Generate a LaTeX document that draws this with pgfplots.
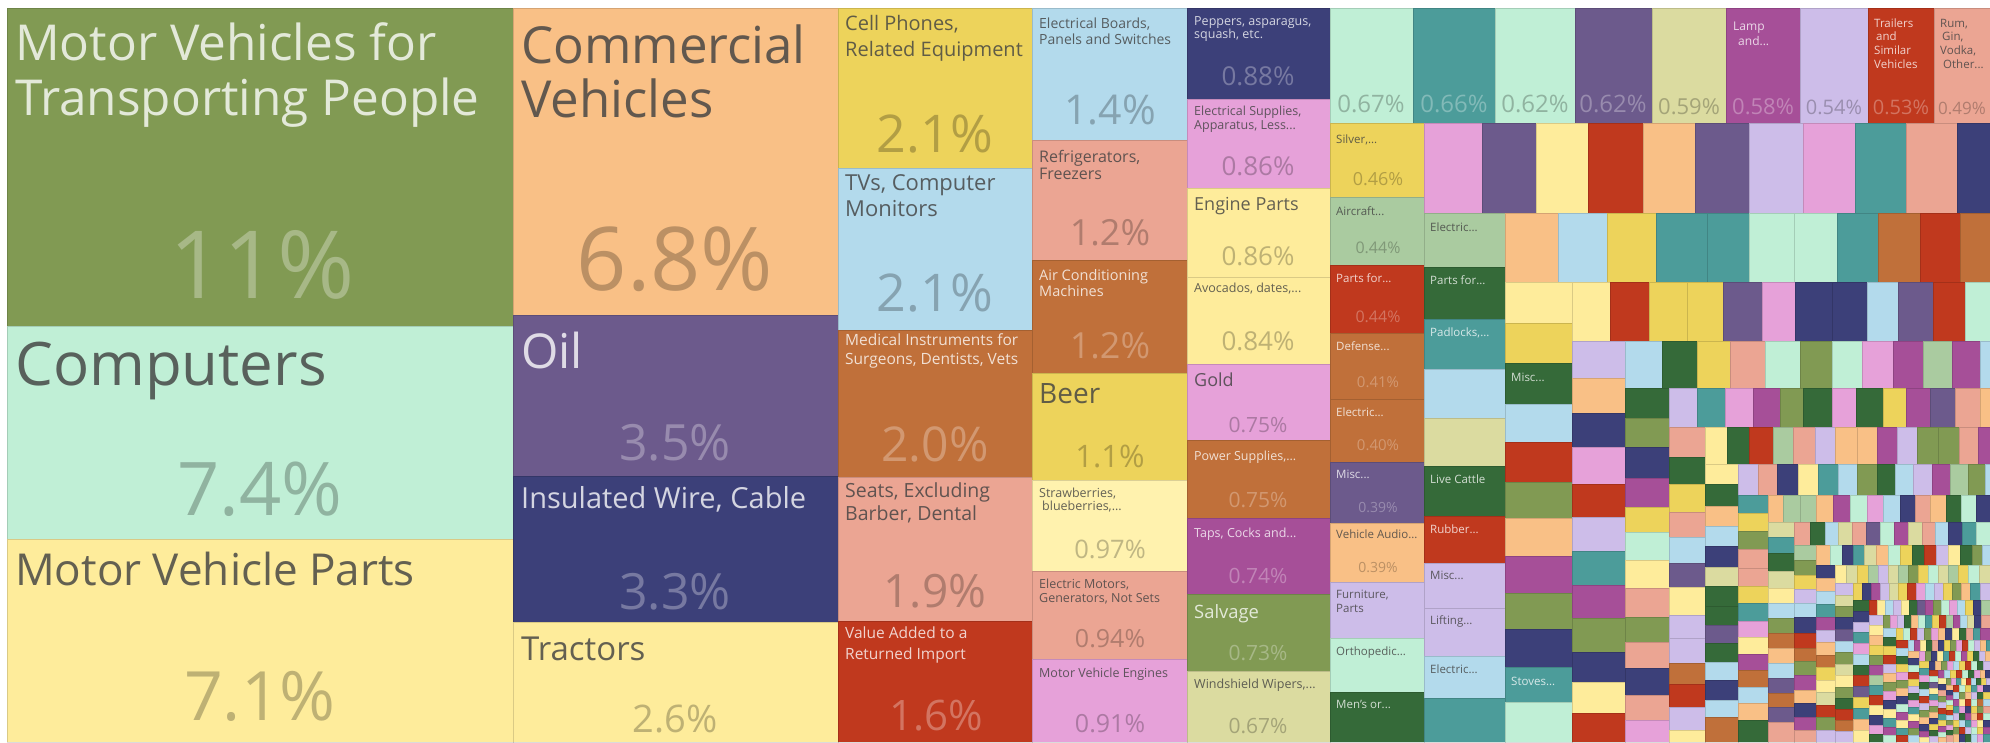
\documentclass[border=0pt]{standalone}
\usepackage{fontspec}
\setmainfont{Open Sans}
\usepackage{pgfplots}
\usepackage{pgfplotstable}
\pgfplotsset{compat=1.18}

\definecolor{cG}{HTML}{819A53}
\definecolor{cM}{HTML}{C0EFD6}
\definecolor{cLY}{HTML}{FEEC9B}
\definecolor{cO}{HTML}{F9C086}
\definecolor{cP}{HTML}{6C5A8C}
\definecolor{cN}{HTML}{3C4079}
\definecolor{cY}{HTML}{EDD35B}
\definecolor{cLB}{HTML}{B3DAEC}
\definecolor{cB}{HTML}{C0703A}
\definecolor{cS}{HTML}{EBA593}
\definecolor{cR}{HTML}{C0391E}
\definecolor{cPK}{HTML}{E6A1D9}
\definecolor{cMG}{HTML}{A64F98}
\definecolor{cK}{HTML}{DBDBA0}
\definecolor{cT}{HTML}{4C9C9A}
\definecolor{cL}{HTML}{CDBDE9}
\definecolor{cLG}{HTML}{AACBA0}
\definecolor{cDG}{HTML}{356A39}
\definecolor{cSY}{HTML}{FFF2AE}
% text colours: dark tiles
\colorlet{tG}{cG!22!white}\colorlet{pG}{cG!70!white}
\colorlet{tP}{cP!22!white}\colorlet{pP}{cP!70!white}
\colorlet{tN}{cN!22!white}\colorlet{pN}{cN!70!white}
\colorlet{tB}{cB!22!white}\colorlet{pB}{cB!72!white}
\colorlet{tR}{cR!22!white}\colorlet{pR}{cR!70!white}
\colorlet{tMG}{cMG!22!white}\colorlet{pMG}{cMG!70!white}
\colorlet{tT}{cT!22!white}\colorlet{pT}{cT!70!white}
\colorlet{tDG}{cDG!22!white}\colorlet{pDG}{cDG!70!white}
% text colours: light tiles
\colorlet{tM}{cM!30!gray!60!black}\colorlet{pM}{cM!75!black}
\colorlet{tLY}{cLY!30!gray!60!black}\colorlet{pLY}{cLY!75!black}
\colorlet{tSY}{cSY!30!gray!60!black}\colorlet{pSY}{cSY!75!black}
\colorlet{tO}{cO!30!gray!60!black}\colorlet{pO}{cO!75!black}
\colorlet{tY}{cY!30!gray!60!black}\colorlet{pY}{cY!75!black}
\colorlet{tLB}{cLB!30!gray!60!black}\colorlet{pLB}{cLB!75!black}
\colorlet{tS}{cS!30!gray!60!black}\colorlet{pS}{cS!75!black}
\colorlet{tPK}{cPK!30!gray!60!black}\colorlet{pPK}{cPK!75!black}
\colorlet{tK}{cK!30!gray!60!black}\colorlet{pK}{cK!75!black}
\colorlet{tL}{cL!30!gray!60!black}\colorlet{pL}{cL!75!black}
\colorlet{tLG}{cLG!30!gray!60!black}\colorlet{pLG}{cLG!75!black}

% large tiles: x0 y0 x1 y1 colour (pixel units, y downwards)
\pgfplotstableread{
x0 y0 x1 y1 c
7 8 513 326 G
7 326 513 539 M
7 539 513 742 LY
513 8 838 315 O
513 315 838 476 P
513 476 838 622 N
513 622 838 742 LY
838 8 1032 168 Y
838 168 1032 330 LB
838 330 1032 477 B
838 477 1032 621 S
838 621 1032 742 R
1032 8 1187 140 LB
1032 140 1187 260 S
1032 260 1187 373 B
1032 373 1187 480 Y
1032 480 1187 571 SY
1032 571 1187 659 S
1032 659 1187 742 PK
1187 8 1330 99 N
1187 99 1330 188 PK
1187 188 1330 277 LY
1187 277 1330 364 LY
1187 364 1330 440 PK
1187 440 1330 518 B
1187 518 1330 594 MG
1187 594 1330 671 G
1187 671 1330 742 K
1330 8 1413 123 M
1413 8 1495 123 T
1495 8 1575 123 M
1575 8 1652 123 P
1652 8 1726 123 K
1726 8 1800 123 MG
1800 8 1868 123 L
1868 8 1934 123 R
1934 8 1990 123 S
1330 123 1424 197 Y
1330 197 1424 265 LG
1330 265 1424 333 R
1330 333 1424 399 B
1330 399 1424 462 B
1330 462 1424 523 P
1330 523 1424 582 O
1330 582 1424 638 L
1330 638 1424 692 M
1330 692 1424 742 DG
1424 123 1482 213 PK
1482 123 1536 213 P
1536 123 1588 213 LY
1588 123 1643 213 R
1643 123 1695 213 O
1695 123 1749 213 P
1749 123 1803 213 L
1803 123 1855 213 PK
1855 123 1906 213 T
1906 123 1957 213 S
1957 123 1990 213 N
1424 213 1505 267 LG
1424 267 1505 319 DG
1424 319 1505 369 T
1424 369 1505 418 LB
1424 418 1505 466 K
1424 466 1505 516 DG
1424 516 1505 563 R
1424 563 1505 608 L
1424 608 1505 656 L
1424 656 1505 698 LB
1424 698 1505 742 T
1505 213 1558 282 O
1558 213 1607 282 LB
1607 213 1656 282 Y
1656 213 1707 282 T
1707 213 1749 282 T
1749 213 1794 282 M
1794 213 1837 282 M
1837 213 1878 282 T
1878 213 1920 282 B
1920 213 1960 282 R
1960 213 1990 282 B
1505 282 1572 323 LY
1505 323 1572 363 Y
1505 363 1572 404 DG
1505 404 1572 442 LB
1505 442 1572 482 R
1505 482 1572 518 G
1505 518 1572 556 O
1505 556 1572 593 MG
1505 593 1572 629 G
1505 629 1572 667 N
1505 667 1572 702 T
1505 702 1572 742 M
}\majortiles

\pgfplotstableread{
x0 y0 x1 y1 c
1572 282 1610 341 LY
1610 282 1649 341 R
1649 282 1687 341 Y
1687 282 1723 341 Y
1723 282 1762 341 P
1762 282 1795 341 PK
1795 282 1832 341 N
1832 282 1867 341 N
1867 282 1898 341 LB
1898 282 1933 341 P
1933 282 1965 341 R
1965 282 1990 341 M
1572 341 1625 378 L
1572 378 1625 413 O
1572 413 1625 447 N
1572 447 1625 484 PK
1572 484 1625 517 R
1572 517 1625 551 L
1572 551 1625 585 T
1572 585 1625 618 MG
1572 618 1625 652 G
1572 652 1625 682 N
1572 682 1625 713 LY
1572 713 1625 742 R
1625 341 1662 388 LB
1662 341 1697 388 DG
1697 341 1730 388 Y
1730 341 1765 388 S
1765 341 1800 388 M
1800 341 1832 388 G
1832 341 1862 388 M
1862 341 1893 388 PK
1893 341 1923 388 MG
1923 341 1952 388 LG
1952 341 1980 388 MG
1980 341 1990 388 LB
1625 388 1669 418 DG
1625 418 1669 447 G
1625 447 1669 478 N
1625 478 1669 507 MG
1625 507 1669 532 Y
1625 532 1669 560 M
1625 560 1669 588 LY
1625 588 1669 617 S
1625 617 1669 642 G
1625 642 1669 668 S
1625 668 1669 695 N
1625 695 1669 720 S
1625 720 1669 742 PK
1669 388 1697 427 L
1697 388 1725 427 T
1725 388 1753 427 PK
1753 388 1780 427 MG
1780 388 1803 427 G
1803 388 1832 427 DG
1832 388 1856 427 PK
1856 388 1883 427 DG
1883 388 1906 427 Y
1906 388 1930 427 MG
1930 388 1955 427 P
1955 388 1980 427 S
1980 388 1990 427 O
1669 427 1705 457 S
1669 457 1705 484 DG
1669 484 1705 512 Y
1669 512 1705 537 S
1669 537 1705 563 LB
1669 563 1705 587 P
1669 587 1705 615 LY
1669 615 1705 638 L
1669 638 1705 663 L
1669 663 1705 684 B
1669 684 1705 707 R
1669 707 1705 730 L
1669 730 1705 742 LY
1705 427 1727 464 LY
1727 427 1749 464 DG
1749 427 1773 464 R
1773 427 1793 464 LG
1793 427 1815 464 S
1815 427 1835 464 L
1835 427 1857 464 O
1857 427 1877 464 O
1877 427 1897 464 MG
1897 427 1917 464 L
1917 427 1938 464 G
1938 427 1959 464 G
1959 427 1978 464 S
1978 427 1990 464 MG
1705 464 1738 484 LY
1705 484 1738 506 DG
1705 506 1738 526 O
1705 526 1738 546 LB
1705 546 1738 567 N
1705 567 1738 586 K
1705 586 1738 606 DG
1705 606 1738 625 DG
1705 625 1738 643 P
1705 643 1738 662 DG
1705 662 1738 680 LB
1705 680 1738 700 N
1705 700 1738 717 LB
1705 717 1738 742 B
1738 464 1758 495 L
1758 464 1777 495 S
1777 464 1798 495 N
1798 464 1818 495 LY
1818 464 1838 495 T
1838 464 1857 495 LB
1857 464 1877 495 G
1877 464 1895 495 DG
1895 464 1913 495 LB
1913 464 1932 495 L
1932 464 1950 495 MG
1950 464 1968 495 LG
1968 464 1985 495 G
1985 464 1990 495 LB
1738 495 1768 513 T
1738 513 1768 531 Y
1738 531 1768 549 G
1738 549 1768 568 S
1738 568 1768 586 S
1738 586 1768 603 Y
1738 603 1768 621 T
1738 621 1768 637 PK
1738 637 1768 654 LY
1738 654 1768 670 MG
1738 670 1768 687 B
1738 687 1768 703 LB
1738 703 1768 720 O
1738 720 1768 742 DG
1768 495 1783 522 O
1783 495 1800 522 LG
1800 495 1816 522 LG
1816 495 1833 522 O
1833 495 1850 522 MG
1850 495 1867 522 M
1867 495 1883 522 PK
1883 495 1900 522 LB
1900 495 1915 522 N
1915 495 1930 522 S
1930 495 1946 522 O
1946 495 1961 522 DG
1961 495 1976 522 M
1976 495 1990 522 N
1768 522 1794 537 K
1768 537 1794 553 T
1768 553 1794 571 DG
1768 571 1794 588 K
1768 588 1794 603 LY
1768 603 1794 618 LB
1768 618 1794 633 G
1768 633 1794 648 B
1768 648 1794 663 O
1768 663 1794 678 LB
1768 678 1794 693 P
1768 693 1794 707 B
1768 707 1794 722 P
1768 722 1794 742 S
1794 522 1810 545 S
1810 522 1825 545 DG
1825 522 1838 545 LB
1838 522 1852 545 K
1852 522 1866 545 S
1866 522 1880 545 P
1880 522 1894 545 M
1894 522 1908 545 MG
1908 522 1922 545 K
1922 522 1935 545 S
1935 522 1948 545 LB
1948 522 1962 545 N
1962 522 1976 545 T
1976 522 1990 545 M
1794 545 1816 560 LG
1794 560 1816 575 G
1794 575 1816 589 Y
1794 589 1816 603 L
1794 603 1816 617 LB
1794 617 1816 633 N
1794 633 1816 648 R
1794 648 1816 661 B
1794 661 1816 675 G
1794 675 1816 690 MG
1794 690 1816 703 O
1794 703 1816 717 N
1794 717 1816 730 MG
1794 730 1816 742 S
1816 545 1830 565 O
1830 545 1842 565 M
1842 545 1853 565 N
1853 545 1864 565 T
1864 545 1876 565 K
1876 545 1888 565 O
1888 545 1900 565 M
1900 545 1912 565 Y
1912 545 1924 565 DG
1924 545 1936 565 R
1936 545 1948 565 L
1948 545 1960 565 LY
1960 545 1972 565 DG
1972 545 1982 565 G
1982 545 1990 565 LB
1816 565 1835 578 N
1816 578 1835 591 O
1816 591 1835 604 LB
1816 604 1835 617 T
1816 617 1835 630 MG
1816 630 1835 642 L
1816 642 1835 655 O
1816 655 1835 667 B
1816 667 1835 680 Y
1816 680 1835 692 LY
1816 692 1835 705 K
1816 705 1835 717 R
1816 717 1835 730 G
1816 730 1835 742 L
1835 565 1846 583 LY
1846 565 1857 583 K
1857 565 1868 583 Y
1868 565 1878 583 LG
1878 565 1888 583 L
1888 565 1898 583 K
1898 565 1908 583 LG
1908 565 1918 583 G
1918 565 1928 583 Y
1928 565 1938 583 M
1938 565 1948 583 K
1948 565 1958 583 LG
1958 565 1968 583 Y
1968 565 1979 583 M
1979 565 1990 583 K
1835 583 1853 595 L
1835 595 1853 606 K
1835 606 1853 617 G
1835 617 1853 629 N
1835 629 1853 641 P
1835 641 1853 652 LB
1835 652 1853 664 G
1835 664 1853 675 K
1835 675 1853 687 LY
1835 687 1853 698 G
1835 698 1853 709 DG
1835 709 1853 720 R
1835 720 1853 731 B
1835 731 1853 742 L
1853 583 1862 600 Y
1862 583 1871 600 N
1871 583 1880 600 MG
1880 583 1889 600 L
1889 583 1898 600 K
1898 583 1907 600 Y
1907 583 1916 600 R
1916 583 1925 600 PK
1925 583 1934 600 LB
1934 583 1943 600 L
1943 583 1952 600 Y
1952 583 1961 600 G
1961 583 1970 600 O
1970 583 1980 600 T
1980 583 1990 600 L
1853 600 1869 611 DG
1853 611 1869 622 N
1853 622 1869 632 L
1853 632 1869 643 T
1853 643 1869 654 PK
1853 654 1869 665 LB
1853 665 1869 675 DG
1853 675 1869 686 R
1853 686 1869 697 P
1853 697 1869 708 Y
1853 708 1869 719 T
1853 719 1869 730 O
1853 730 1869 742 LY
1869 600 1877 615 R
1877 600 1885 615 LY
1885 600 1893 615 LB
1893 600 1901 615 L
1901 600 1909 615 LY
1909 600 1917 615 DG
1917 600 1925 615 P
1925 600 1933 615 MG
1933 600 1941 615 G
1941 600 1949 615 M
1949 600 1957 615 PK
1957 600 1965 615 LB
1965 600 1973 615 Y
1973 600 1981 615 N
1981 600 1990 615 LG
1869 615 1883 625 L
1869 625 1883 635 LY
1869 635 1883 645 O
1869 645 1883 655 Y
1869 655 1883 665 G
1869 665 1883 675 MG
1869 675 1883 685 LG
1869 685 1883 695 T
1869 695 1883 705 R
1869 705 1883 715 LY
1869 715 1883 725 N
1869 725 1883 734 PK
1869 734 1883 742 DG
1883 615 1890 628 G
1890 615 1897 628 PK
1897 615 1904 628 L
1904 615 1911 628 DG
1911 615 1918 628 O
1918 615 1925 628 M
1925 615 1932 628 T
1932 615 1939 628 Y
1939 615 1946 628 R
1946 615 1953 628 LG
1953 615 1960 628 MG
1960 615 1967 628 LB
1967 615 1974 628 K
1974 615 1981 628 N
1981 615 1990 628 S
1883 628 1896 637 LB
1883 637 1896 646 DG
1883 646 1896 655 Y
1883 655 1896 664 R
1883 664 1896 673 L
1883 673 1896 682 O
1883 682 1896 691 G
1883 691 1896 700 PK
1883 700 1896 709 N
1883 709 1896 718 LY
1883 718 1896 727 T
1883 727 1896 735 MG
1883 735 1896 742 M
1896 628 1903 640 Y
1903 628 1910 640 M
1910 628 1917 640 R
1917 628 1924 640 L
1924 628 1931 640 G
1931 628 1938 640 PK
1938 628 1945 640 O
1945 628 1952 640 N
1952 628 1959 640 LY
1959 628 1966 640 DG
1966 628 1973 640 S
1973 628 1980 640 T
1980 628 1990 640 MG
1896 640 1908 648 R
1896 648 1908 656 LB
1896 656 1908 664 DG
1896 664 1908 672 Y
1896 672 1908 680 PK
1896 680 1908 688 G
1896 688 1908 696 O
1896 696 1908 704 N
1896 704 1908 712 M
1896 712 1908 720 MG
1896 720 1908 728 LY
1896 728 1908 735 T
1896 735 1908 742 R
1908 640 1914 651 LB
1914 640 1920 651 MG
1920 640 1926 651 LY
1926 640 1932 651 DG
1932 640 1938 651 S
1938 640 1944 651 N
1944 640 1950 651 Y
1950 640 1956 651 G
1956 640 1962 651 PK
1962 640 1968 651 R
1968 640 1974 651 M
1974 640 1980 651 L
1980 640 1986 651 O
1986 640 1990 651 T
1908 651 1919 658 O
1908 658 1919 665 N
1908 665 1919 672 M
1908 672 1919 679 R
1908 679 1919 686 Y
1908 686 1919 693 L
1908 693 1919 700 DG
1908 700 1919 707 PK
1908 707 1919 714 T
1908 714 1919 721 LY
1908 721 1919 728 MG
1908 728 1919 735 G
1908 735 1919 742 LB
1919 651 1925 661 PK
1925 651 1931 661 G
1931 651 1937 661 N
1937 651 1943 661 LY
1943 651 1949 661 T
1949 651 1955 661 R
1955 651 1961 661 M
1961 651 1967 661 MG
1967 651 1973 661 Y
1973 651 1979 661 DG
1979 651 1985 661 L
1985 651 1990 661 O
1919 661 1929 668 Y
1919 668 1929 675 T
1919 675 1929 682 PK
1919 682 1929 689 DG
1919 689 1929 696 LB
1919 696 1929 703 R
1919 703 1929 710 L
1919 710 1929 717 G
1919 717 1929 724 O
1919 724 1929 731 N
1919 731 1929 737 MG
1919 737 1929 742 LY
1929 661 1935 670 N
1935 661 1941 670 O
1941 661 1947 670 G
1947 661 1953 670 PK
1953 661 1959 670 LB
1959 661 1965 670 Y
1965 661 1971 670 R
1971 661 1977 670 M
1977 661 1983 670 DG
1983 661 1990 670 L
1929 670 1938 676 R
1929 676 1938 682 M
1929 682 1938 688 P
1929 688 1938 694 LY
1929 694 1938 700 T
1929 700 1938 706 PK
1929 706 1938 712 G
1929 712 1938 718 O
1929 718 1938 724 N
1929 724 1938 730 Y
1929 730 1938 736 DG
1929 736 1938 742 L
1938 670 1944 678 MG
1944 670 1950 678 LB
1950 670 1956 678 Y
1956 670 1962 678 R
1962 670 1968 678 M
1968 670 1974 678 DG
1974 670 1980 678 PK
1980 670 1985 678 O
1985 670 1990 678 N
1938 678 1946 684 LY
1938 684 1946 690 N
1938 690 1946 696 S
1938 696 1946 702 G
1938 702 1946 708 L
1938 708 1946 714 R
1938 714 1946 720 T
1938 720 1946 726 Y
1938 726 1946 732 MG
1938 732 1946 737 M
1938 737 1946 742 O
1946 678 1951 685 G
1951 678 1956 685 PK
1956 678 1961 685 T
1961 678 1966 685 LY
1966 678 1971 685 R
1971 678 1976 685 LB
1976 678 1981 685 DG
1981 678 1986 685 Y
1986 678 1990 685 L
1946 685 1953 690 O
1946 690 1953 695 N
1946 695 1953 700 MG
1946 700 1953 705 M
1946 705 1953 710 Y
1946 710 1953 715 R
1946 715 1953 720 LB
1946 720 1953 725 G
1946 725 1953 730 PK
1946 730 1953 735 DG
1946 735 1953 742 S
1953 685 1959 692 R
1959 685 1965 692 M
1965 685 1971 692 Y
1971 685 1977 692 T
1977 685 1983 692 PK
1983 685 1990 692 N
1953 692 1959 699 LB
1959 692 1965 699 G
1965 692 1971 699 O
1971 692 1977 699 L
1977 692 1983 699 DG
1983 692 1990 699 Y
1953 699 1959 706 MG
1959 699 1965 706 LY
1965 699 1971 706 R
1971 699 1977 706 M
1977 699 1983 706 B
1983 699 1990 706 LB
1953 706 1959 713 T
1959 706 1965 713 PK
1965 706 1971 713 N
1971 706 1977 713 Y
1977 706 1983 713 G
1983 706 1990 713 S
1953 713 1959 720 L
1959 713 1965 720 DG
1965 713 1971 720 MG
1971 713 1977 720 O
1977 713 1983 720 R
1983 713 1990 720 M
1953 720 1959 727 Y
1959 720 1965 727 LB
1965 720 1971 727 T
1971 720 1977 727 PK
1977 720 1983 727 LY
1983 720 1990 727 N
1953 727 1959 734 G
1959 727 1965 734 R
1965 727 1971 734 L
1971 727 1977 734 M
1977 727 1983 734 Y
1983 727 1990 734 MG
1953 734 1959 742 O
1959 734 1965 742 N
1965 734 1971 742 DG
1971 734 1977 742 LB
1977 734 1983 742 PK
1983 734 1990 742 T
}\mosaictiles

\newcommand\drawtiles[1]{%
  \pgfplotstablegetrowsof{#1}%
  \pgfmathtruncatemacro\nlast{\pgfplotsretval-1}%
  \pgfplotsinvokeforeach{0,...,\nlast}{%
    \pgfplotstablegetelem{##1}{x0}\of#1\let\tXa\pgfplotsretval
    \pgfplotstablegetelem{##1}{y0}\of#1\let\tYa\pgfplotsretval
    \pgfplotstablegetelem{##1}{x1}\of#1\let\tXb\pgfplotsretval
    \pgfplotstablegetelem{##1}{y1}\of#1\let\tYb\pgfplotsretval
    \pgfplotstablegetelem{##1}{c}\of#1\let\tC\pgfplotsretval
    \edef\tmp{\noexpand\addplot[tile,fill=c\tC] coordinates {(\tXa,\tYa) (\tXb,\tYa) (\tXb,\tYb) (\tXa,\tYb)} -- cycle;}%
    \tmp
  }%
}
\newcommand\lab[5]{\node[anchor=base west,inner sep=0pt,text=#4,font=\fontsize{#3}{#3}\selectfont] at (axis cs:#1,#2) {#5};}
\newcommand\pct[5]{\node[anchor=base,inner sep=0pt,text=#4,font=\fontsize{#3}{#3}\selectfont] at (axis cs:#1,#2) {#5};}

\begin{document}
\begin{tikzpicture}
\begin{axis}[
  name=ax,
  width=1990pt, height=742pt, scale only axis,
  xmin=0, xmax=1990, ymin=0, ymax=742, y dir=reverse,
  hide axis,
  tile/.style={draw=black, draw opacity=0.14, line width=1pt},
]
\addplot[fill=white, draw=none] coordinates {(0,0) (1990,0) (1990,742) (0,742)} -- cycle;
\drawtiles{\majortiles}
\drawtiles{\mosaictiles}

% column 1
\lab{15}{60}{49.5}{tG}{Motor Vehicles for}
\lab{15}{115}{49.5}{tG}{Transporting People}
\pct{262}{298}{94}{pG}{11\%}
\lab{15}{385}{60}{tM}{Computers}
\pct{260}{515}{74}{pM}{7.4\%}
\lab{15}{585}{44}{tLY}{Motor Vehicle Parts}
\pct{260}{720}{68}{pLY}{7.1\%}
% column 2
\lab{521}{63}{51}{tO}{Commercial}
\lab{521}{117}{51}{tO}{Vehicles}
\pct{675}{290}{88}{pO}{6.8\%}
\lab{521}{368}{48}{tP}{Oil}
\pct{675}{460}{50}{pP}{3.5\%}
\lab{521}{508}{29}{tN}{Insulated Wire, Cable}
\pct{675}{609}{50}{pN}{3.3\%}
\lab{521}{660}{33}{tLY}{Tractors}
\pct{675}{732}{38}{pLY}{2.6\%}
% column 3
\lab{845}{30}{20}{tY}{Cell Phones,}
\lab{845}{56}{20}{tY}{Related Equipment}
\pct{935}{152}{52}{pY}{2.1\%}
\lab{845}{190}{22}{tLB}{TVs, Computer}
\lab{845}{216}{22}{tLB}{Monitors}
\pct{935}{311}{52}{pLB}{2.1\%}
\lab{845}{345}{15.5}{tB}{Medical Instruments for}
\lab{845}{364}{15.5}{tB}{Surgeons, Dentists, Vets}
\pct{935}{461}{48}{pB}{2.0\%}
\lab{845}{497}{19.5}{tS}{Seats, Excluding}
\lab{845}{520}{19.5}{tS}{Barber, Dental}
\pct{935}{607}{46}{pS}{1.9\%}
\lab{845}{638}{15.5}{tR}{Value Added to a}
\lab{845}{659}{15.5}{tR}{Returned Import}
\pct{936}{730}{42}{pR}{1.6\%}
% column 4
\lab{1039}{28}{14}{tLB}{Electrical Boards,}
\lab{1039}{44}{14}{tLB}{Panels and Switches}
\pct{1110}{124}{41}{pLB}{1.4\%}
\lab{1039}{162}{16}{tS}{Refrigerators,}
\lab{1039}{179}{16}{tS}{Freezers}
\pct{1110}{245}{36}{pS}{1.2\%}
\lab{1039}{280}{14.5}{tB}{Air Conditioning}
\lab{1039}{296}{14.5}{tB}{Machines}
\pct{1110}{358}{36}{pB}{1.2\%}
\lab{1039}{403}{28}{tY}{Beer}
\pct{1110}{467}{31}{pY}{1.1\%}
\lab{1039}{497}{12.5}{tSY}{Strawberries,}
\lab{1042}{510}{12.5}{tSY}{blueberries,...}
\pct{1110}{558}{25.5}{pSY}{0.97\%}
\lab{1039}{588}{12.5}{tS}{Electric Motors,}
\lab{1039}{602}{12.5}{tS}{Generators, Not Sets}
\pct{1110}{647}{25}{pS}{0.94\%}
\lab{1039}{677}{12.5}{tPK}{Motor Vehicle Engines}
\pct{1110}{732}{25}{pPK}{0.91\%}
% column 5
\lab{1194}{25}{12.5}{tN}{Peppers, asparagus,}
\lab{1194}{38}{12.5}{tN}{squash, etc.}
\pct{1258}{85}{26}{pN}{0.88\%}
\lab{1194}{115}{12.5}{tPK}{Electrical Supplies,}
\lab{1194}{129}{12.5}{tPK}{Apparatus, Less...}
\pct{1258}{175}{26}{pPK}{0.86\%}
\lab{1194}{210}{18}{tLY}{Engine Parts}
\pct{1258}{265}{26}{pLY}{0.86\%}
\lab{1194}{292}{12.5}{tLY}{Avocados, dates,...}
\pct{1258}{350}{26}{pLY}{0.84\%}
\lab{1194}{386}{18}{tPK}{Gold}
\pct{1258}{432}{21}{pPK}{0.75\%}
\lab{1194}{460}{12.5}{tB}{Power Supplies,...}
\pct{1258}{507}{21}{pB}{0.75\%}
\lab{1194}{537}{12.5}{tMG}{Taps, Cocks and...}
\pct{1258}{583}{21}{pMG}{0.74\%}
\lab{1194}{618}{18.4}{tG}{Salvage}
\pct{1258}{660}{21}{pG}{0.73\%}
\lab{1194}{688}{12.5}{tK}{Windshield Wipers,...}
\pct{1258}{733}{21}{pK}{0.67\%}
% top row
\pct{1371}{112}{24}{pM}{0.67\%}
\pct{1454}{112}{24}{pT}{0.66\%}
\pct{1535}{112}{24}{pM}{0.62\%}
\pct{1613}{112}{24}{pP}{0.62\%}
\pct{1689}{114}{22}{pK}{0.59\%}
\pct{1763}{114}{22}{pMG}{0.58\%}
\pct{1834}{114}{20}{pL}{0.54\%}
\pct{1901}{114}{20}{pR}{0.53\%}
\pct{1962}{114}{17}{pS}{0.49\%}
\lab{1733}{30}{12}{tMG}{Lamp}
\lab{1738}{45}{12}{tMG}{and...}
\lab{1874}{27}{11.5}{tR}{Trailers}
\lab{1876}{40}{11.5}{tR}{and}
\lab{1874}{54}{11.5}{tR}{Similar}
\lab{1874}{68}{11.5}{tR}{Vehicles}
\lab{1940}{27}{11.5}{tS}{Rum,}
\lab{1942}{40}{11.5}{tS}{Gin,}
\lab{1940}{54}{11.5}{tS}{Vodka,}
\lab{1943}{68}{11.5}{tS}{Other...}
% column A
\lab{1336}{143}{11.5}{tY}{Silver,...}
\pct{1378}{185}{18}{pY}{0.46\%}
\lab{1336}{215}{11.5}{tLG}{Aircraft...}
\pct{1378}{253}{16}{pLG}{0.44\%}
\lab{1336}{282}{11.5}{tR}{Parts for...}
\pct{1378}{322}{16}{pR}{0.44\%}
\lab{1336}{350}{11.5}{tB}{Defense...}
\pct{1378}{387}{15}{pB}{0.41\%}
\lab{1336}{416}{11.5}{tB}{Electric...}
\pct{1378}{450}{15}{pB}{0.40\%}
\lab{1336}{478}{11.5}{tP}{Misc...}
\pct{1378}{512}{14}{pP}{0.39\%}
\lab{1336}{538}{11.5}{tO}{Vehicle Audio...}
\pct{1378}{572}{14}{pO}{0.39\%}
\lab{1336}{598}{11.5}{tL}{Furniture,}
\lab{1336}{612}{11.5}{tL}{Parts}
\lab{1336}{655}{11.5}{tM}{Orthopedic...}
\lab{1336}{708}{11.5}{tDG}{Men's or...}
% column B, C
\lab{1430}{231}{11.5}{tLG}{Electric...}
\lab{1430}{284}{11.5}{tDG}{Parts for...}
\lab{1430}{336}{11.5}{tT}{Padlocks,...}
\lab{1430}{483}{11.5}{tDG}{Live Cattle}
\lab{1430}{533}{11.5}{tR}{Rubber...}
\lab{1430}{579}{11.5}{tL}{Misc...}
\lab{1430}{624}{11.5}{tL}{Lifting...}
\lab{1430}{673}{11.5}{tLB}{Electric...}
\lab{1511}{381}{11.5}{tDG}{Misc...}
\lab{1511}{685}{11.5}{tT}{Stoves...}
\end{axis}
\pgfresetboundingbox
\path (ax.south west) rectangle (ax.north east);
\end{tikzpicture}
\end{document}
